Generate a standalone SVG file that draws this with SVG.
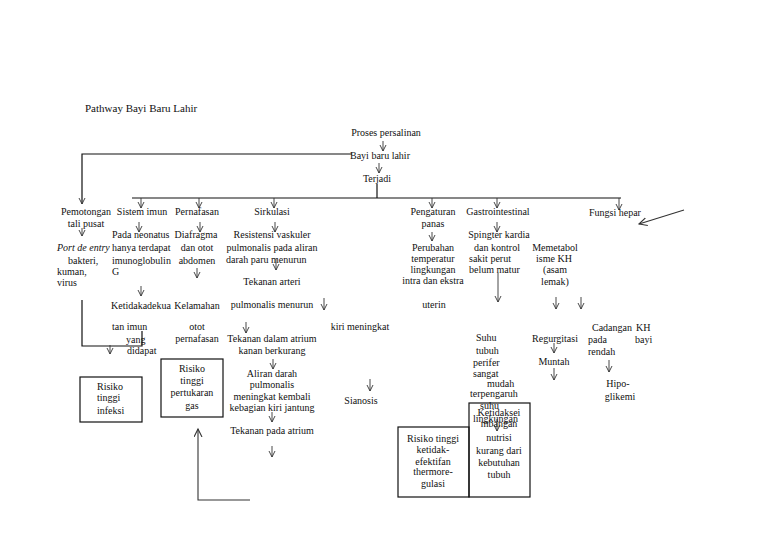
<svg xmlns="http://www.w3.org/2000/svg" width="768" height="543" viewBox="0 0 768 543">
<style>
text{font-family:"Liberation Serif","Times New Roman",serif;font-size:10px;fill:#111}
.t{font-size:11px}
.m{text-anchor:middle}
.it{font-style:italic}
.ln{fill:none;stroke:#111;stroke-width:1.2}
.ar{fill:none;stroke:#333;stroke-width:0.9;marker-end:url(#ah)}
.big{fill:none;stroke:#333;stroke-width:1.1;marker-end:url(#ah2)}
.box{fill:#fff;stroke:#111;stroke-width:1.2}
</style>
<defs>
<marker id="ah" markerUnits="userSpaceOnUse" markerWidth="8" markerHeight="8" refX="6" refY="3.5" viewBox="0 0 8 8" orient="auto"><path d="M0,0.5 L6,3.5 L0,6.5" fill="none" stroke="#333" stroke-width="0.9"/></marker>
<marker id="ah2" markerUnits="userSpaceOnUse" markerWidth="10" markerHeight="10" refX="8" refY="4" viewBox="0 0 10 10" orient="auto"><path d="M0,0 L8,4 L0,8" fill="none" stroke="#333" stroke-width="1.1"/></marker>
</defs>
<rect width="768" height="543" fill="#fff"/>
<text class="t" x="85" y="112">Pathway Bayi Baru Lahir</text>

<g id="connectors">
<path class="ln" d="M352,154 H82 V204" marker-end="url(#ah)"/>
<path class="ln" d="M377,184 V198"/>
<path class="ln" d="M132,198 H621"/>
<path class="ar" d="M141,198 V208"/>
<path class="ar" d="M199,198 V208"/>
<path class="ar" d="M274,198 V208"/>
<path class="ar" d="M432,198 V208"/>
<path class="ar" d="M497,198 V208"/>
<path class="ar" d="M619,198 V210"/>
<path class="ln" d="M82,300 V346 H142 V331"/>
<path class="big" d="M250,500 H198 V429"/>
<path class="big" d="M684,210 L639,224"/>
<path class="ar" d="M383,141 V151"/>
<path class="ar" d="M379,163 V173"/>
<path class="ar" d="M82,228 V236"/>
<path class="ar" d="M139,222 V232"/>
<path class="ar" d="M141,286 V296"/>
<path class="ar" d="M110,345 V354"/>
<path class="ar" d="M200,222 V232"/>
<path class="ar" d="M197,268 V278"/>
<path class="ar" d="M275,222 V232"/>
<path class="ar" d="M276,259 V270"/>
<path class="ar" d="M324,298 V310"/>
<path class="ar" d="M246,322 V333"/>
<path class="ar" d="M273,359 V369"/>
<path class="ar" d="M272,412 V422"/>
<path class="ar" d="M272,446 V457"/>
<path class="ar" d="M370,379 V391"/>
<path class="ar" d="M432,232 V241"/>
<path class="ar" d="M497,222 V232"/>
<path class="ar" d="M498,273 V302"/>
<path class="ar" d="M556,297 V309"/>
<path class="ar" d="M581,297 V309"/>
<path class="ar" d="M554,343 V353"/>
<path class="ar" d="M554,368 V380"/>
<path class="ar" d="M609,360 V372"/>
</g>

<g id="n-top">
<text class="m" x="386" y="136">Proses persalinan</text>
<text class="m" x="380" y="159">Bayi baru lahir</text>
<text class="m" x="377" y="182">Terjadi</text>
</g>

<g id="n-pemotongan">
<text class="m" x="86" y="215">Pemotongan</text>
<text class="m" x="86" y="227">tali pusat</text>
<text class="it" x="57" y="251">Port de entry</text>
<text x="68" y="263.5">bakteri,</text>
<text x="57" y="274.5">kuman,</text>
<text x="57" y="285.5">virus</text>
</g>

<g id="n-imun">
<text class="m" x="142" y="215">Sistem imun</text>
<text x="112" y="238">Pada neonatus</text>
<text x="112" y="251">hanya terdapat</text>
<text x="112" y="263.5">imunoglobulin</text>
<text x="112" y="274.5">G</text>
<text x="111" y="308.5">Ketidakadekua</text>
<text x="112" y="329.5">tan imun</text>
<text x="126" y="342.5">yang</text>
<text x="127" y="353.5">didapat</text>
</g>

<g id="n-infeksi">
<rect class="box" x="80" y="377" width="62" height="45"/>
<text x="97" y="389.5">Risiko</text>
<text x="97" y="401">tinggi</text>
<text x="97" y="413.5">infeksi</text>
</g>

<g id="n-pernafasan">
<text class="m" x="197" y="215">Pernafasan</text>
<text class="m" x="196" y="238">Diafragma</text>
<text class="m" x="197" y="251">dan otot</text>
<text class="m" x="197" y="263.5">abdomen</text>
<text class="m" x="197" y="308.5">Kelamahan</text>
<text class="m" x="197" y="329.5">otot</text>
<text class="m" x="197" y="342">pernafasan</text>
</g>

<g id="n-gas">
<rect class="box" x="161" y="359" width="62" height="58"/>
<text class="m" x="192" y="371.5">Risiko</text>
<text class="m" x="192" y="383.5">tinggi</text>
<text class="m" x="192" y="395.5">pertukaran</text>
<text class="m" x="192" y="408.5">gas</text>
</g>

<g id="n-sirkulasi">
<text class="m" x="272" y="215">Sirkulasi</text>
<text class="m" x="272" y="238">Resistensi vaskuler</text>
<text class="m" x="272" y="251">pulmonalis pada aliran</text>
<text x="226" y="262.5">darah paru menurun</text>
<text class="m" x="272" y="284.5">Tekanan arteri</text>
<text class="m" x="272" y="308">pulmonalis menurun</text>
<text class="m" x="360" y="329.5">kiri meningkat</text>
<text class="m" x="272" y="341.5">Tekanan dalam atrium</text>
<text class="m" x="272" y="353.5">kanan berkurang</text>
<text class="m" x="272" y="376.5">Aliran darah</text>
<text class="m" x="272" y="388">pulmonalis</text>
<text class="m" x="272" y="399.5">meningkat kembali</text>
<text class="m" x="272" y="411">kebagian kiri jantung</text>
<text class="m" x="272" y="433.5">Tekanan pada atrium</text>
<text class="m" x="361" y="403.5">Sianosis</text>
</g>

<g id="n-panas">
<text class="m" x="433" y="215">Pengaturan</text>
<text class="m" x="433" y="226.5">panas</text>
<text class="m" x="433" y="251">Perubahan</text>
<text class="m" x="433" y="262">temperatur</text>
<text class="m" x="433" y="272.5">lingkungan</text>
<text class="m" x="433" y="283.5">intra dan ekstra</text>
<text class="m" x="434" y="308">uterin</text>
</g>

<g id="n-thermo">
<rect class="box" x="398" y="427" width="71" height="70"/>
<text class="m" x="433" y="441.5">Risiko tinggi</text>
<text class="m" x="433" y="452.5">ketidak-</text>
<text class="m" x="433" y="464.5">efektifan</text>
<text class="m" x="433" y="474.5">thermore-</text>
<text class="m" x="433" y="486.5">gulasi</text>
</g>

<g id="n-nutrisi">
<rect class="box" x="469" y="403" width="61" height="94" fill="none" style="fill:none"/>
<text class="m" x="499" y="415.5">Ketidaksei</text>
<text class="m" x="499" y="426.5">mbangan</text>
<path class="ar" d="M497,419 V431"/>
<text class="m" x="499" y="440.5">nutrisi</text>
<text class="m" x="499" y="453.5">kurang dari</text>
<text class="m" x="499" y="465.5">kebutuhan</text>
<text class="m" x="499" y="477.5">tubuh</text>
</g>

<g id="n-suhu">
<text x="476" y="340.5">Suhu</text>
<text x="476" y="353.5">tubuh</text>
<text x="473" y="365.5">perifer</text>
<text x="473" y="376.5">sangat</text>
<text x="487" y="386.5">mudah</text>
<text x="470" y="396.5">terpengaruh</text>
<text x="480" y="408.5">suhu</text>
<text x="473" y="421.5">lingkungan</text>
</g>

<g id="n-gastro">
<text class="m" x="498" y="215">Gastrointestinal</text>
<text class="m" x="499" y="238">Spingter kardia</text>
<text class="m" x="497" y="251">dan kontrol</text>
<text x="469" y="262">sakit perut</text>
<text x="469" y="272.5">belum matur</text>
</g>

<g id="n-metabol">
<text class="m" x="555" y="251">Memetabol</text>
<text class="m" x="554" y="262">isme KH</text>
<text class="m" x="555" y="272.5">(asam</text>
<text class="m" x="555" y="285">lemak)</text>
</g>

<g id="n-regurgitasi">
<text class="m" x="555" y="341.5">Regurgitasi</text>
<text class="m" x="554" y="364.5">Muntah</text>
</g>

<g id="n-hepar">
<text class="m" x="615" y="216">Fungsi hepar</text>
</g>

<g id="n-cadangan">
<text x="592" y="330.5">Cadangan</text>
<text x="636" y="330.5">KH</text>
<text x="588" y="342.5">pada</text>
<text x="635" y="342.5">bayi</text>
<text x="588" y="354.5">rendah</text>
<text class="m" x="618" y="386.5">Hipo-</text>
<text class="m" x="620" y="399.5">glikemi</text>
</g>
</svg>
